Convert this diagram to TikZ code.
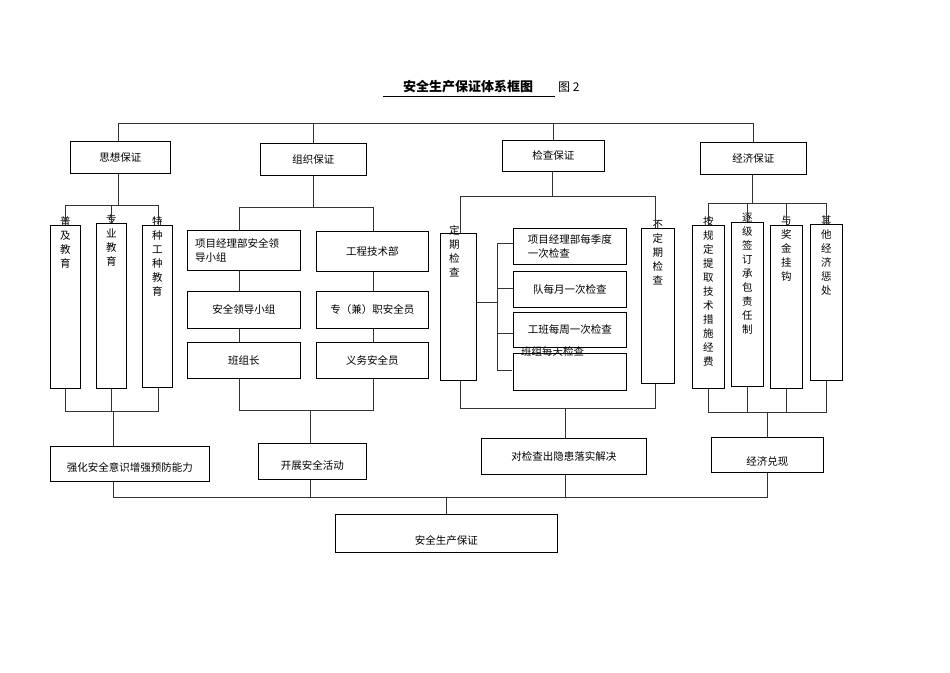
\documentclass[tikz,border=0pt]{standalone}
\usepackage{fontspec}
\newfontfamily\cjk{Noto Sans CJK SC}
\usetikzlibrary{calc}
\tikzset{ln/.style={line width=0.8pt,draw=black!80}, bxs/.style={draw,line width=0.8pt,inner sep=0pt}, tx/.style={font=\cjk\fontsize{10.5}{14}\selectfont,inner sep=0pt,align=center}}
\newcommand\bx[5]{\node[bxs,minimum width=#4pt-#2pt,minimum height=#5pt-#3pt,anchor=north west] (#1) at (#2,#3) {};}
\begin{document}
\begin{tikzpicture}[x=1pt,y=-1pt]
\useasboundingbox (0,0) rectangle (950,672);
\node[tx,font=\cjk\bfseries\fontsize{13}{15}\selectfont] (title) at (468,87) {安全生产保证体系框图};
\draw[line width=0.8pt] (383,96) -- (555,96);
\node[tx,font=\cjk\fontsize{12}{14}\selectfont,anchor=west] (fig) at (558,87) {图 2};
% level 1
\bx{sx}{70}{141}{170}{173}\node[tx] at (sx) {思想保证};
\bx{zz}{260}{143}{366}{175}\node[tx] at (zz) {组织保证};
\bx{jc}{502}{140}{604}{171}\node[tx] at (jc) {检查保证};
\bx{jj}{700}{142}{806}{174}\node[tx] at (jj) {经济保证};
\coordinate (tb) at (0,123);
\draw[ln] (sx.north -| 118,0) |- (jj.north |- tb) -- (jj.north);
\draw[ln] (zz.north) -- (zz.north |- tb);
\draw[ln] (jc.north) -- (jc.north |- tb);
% 思想
\bx{pj}{50}{225}{80}{388}\node[tx,anchor=north] at ($(pj.north)+(0,-9)$) {普\\及\\教\\育};
\bx{zy}{96}{223}{126}{388}\node[tx,anchor=north] at ($(zy.north)+(0,-9)$) {专\\业\\教\\育};
\bx{tz}{142}{225}{172}{387}\node[tx,anchor=north] at ($(tz.north)+(0,-9)$) {特\\种\\工\\种\\教\\育};
\draw[ln] (sx.south -| 118,0) -- (118,205);
\draw[ln] (pj.north -| 65,0) |- (158,205) -- (tz.north -| 158,0);
\draw[ln] (zy.north -| 111,0) -- (111,205);
\draw[ln] (pj.south -| 65,0) |- (158,411) -- (tz.south -| 158,0);
\draw[ln] (zy.south -| 111,0) -- (111,411);
\bx{qh}{50}{446}{209}{481}\node[tx] at ($(qh)+(0,4)$) {强化安全意识增强预防能力};
\draw[ln] (113,411) -- (qh.north -| 113,0);
% 组织
\bx{xm}{187}{230}{300}{270}\node[tx,align=left,anchor=west] at ($(xm.west)+(8,0)$) {项目经理部安全领\\导小组};
\bx{aq}{187}{291}{300}{328}\node[tx] at (aq) {安全领导小组};
\bx{bz}{187}{342}{300}{378}\node[tx] at (bz) {班组长};
\bx{gc}{316}{231}{428}{271}\node[tx] at (gc) {工程技术部};
\bx{zj}{316}{291}{428}{328}\node[tx] at (zj) {专（兼）职安全员};
\bx{yw}{316}{342}{428}{378}\node[tx] at (yw) {义务安全员};
\draw[ln] (zz.south) -- (zz.south |- 0,207);
\draw[ln] (xm.north -| 239,0) |- (373,207) -- (gc.north -| 373,0);
\draw[ln] (xm.south -| 239,0) -- (aq.north -| 239,0) (aq.south -| 239,0) -- (bz.north -| 239,0);
\draw[ln] (gc.south -| 373,0) -- (zj.north -| 373,0) (zj.south -| 373,0) -- (yw.north -| 373,0);
\draw[ln] (bz.south -| 239,0) |- (373,410) -- (yw.south -| 373,0);
\bx{kz}{258}{443}{366}{479}\node[tx] at ($(kz)+(0,4)$) {开展安全活动};
\draw[ln] (310,410) -- (kz.north -| 310,0);
% 检查
\bx{dq}{440}{233}{476}{380}\node[tx,anchor=north] at ($(dq.north)+(-4,-8)$) {定\\期\\检\\查};
\bx{bd}{641}{228}{674}{383}\node[tx,anchor=north] at ($(bd.north)+(0,-8)$) {不\\定\\期\\检\\查};
\bx{c1}{513}{228}{626}{264}\node[tx,align=left] at (c1) {项目经理部每季度\\一次检查};
\bx{c2}{513}{271}{626}{307}\node[tx] at (c2) {队每月一次检查};
\bx{c3}{513}{312}{626}{347}\node[tx] at (c3) {工班每周一次检查};
\bx{c4}{513}{353}{626}{390}\node[tx,anchor=north west] at ($(c4.north west)+(8,-7)$) {班组每天检查};
\draw[ln] (jc.south -| 552,0) -- (552,196);
\draw[ln] (dq.north -| 460,0) |- (655,196) -- (bd.north -| 655,0);
\draw[ln] (dq.south -| 460,0) |- (655,408) -- (bd.south -| 655,0);
\draw[ln] (dq.east |- 0,302) -- (497,302);
\draw[ln] (c1.west |- 0,243) -| (497,370) -- (512,370);
\draw[ln] (497,288) -- (c2.west |- 0,288) (497,333) -- (c3.west |- 0,333);
\bx{dj}{481}{438}{646}{474}\node[tx] at (dj) {对检查出隐患落实解决};
\draw[ln] (565,408) -- (dj.north -| 565,0);
% 经济
\bx{e1}{692}{225}{724}{388}\node[tx,anchor=north] at ($(e1.north)+(0,-9)$) {按\\规\\定\\提\\取\\技\\术\\措\\施\\经\\费};
\bx{e2}{731}{222}{763}{386}\node[tx,anchor=north] at ($(e2.north)+(0,-9)$) {逐\\级\\签\\订\\承\\包\\责\\任\\制};
\bx{e3}{770}{225}{802}{388}\node[tx,anchor=north] at ($(e3.north)+(0,-9)$) {与\\奖\\金\\挂\\钩};
\bx{e4}{810}{224}{842}{380}\node[tx,anchor=north] at ($(e4.north)+(0,-9)$) {其\\他\\经\\济\\惩\\处};
\draw[ln] (jj.south -| 752,0) -- (752,203);
\draw[ln] (e1.north -| 708,0) |- (826,203) -- (e4.north -| 826,0);
\draw[ln] (e2.north -| 747,0) -- (747,203) (e3.north -| 786,0) -- (786,203);
\draw[ln] (e1.south -| 708,0) |- (826,412) -- (e4.south -| 826,0);
\draw[ln] (e2.south -| 747,0) -- (747,412) (e3.south -| 786,0) -- (786,412);
\bx{dx}{711}{437}{823}{472}\node[tx] at ($(dx)+(0,7)$) {经济兑现};
\draw[ln] (767,412) -- (dx.north -| 767,0);
% final
\bx{fin}{335}{514}{557}{552}\node[tx] at ($(fin)+(0,7)$) {安全生产保证};
\draw[ln] (qh.south -| 113,0) |- (767,497) -- (dx.south -| 767,0);
\draw[ln] (kz.south -| 310,0) -- (310,497) (dj.south -| 565,0) -- (565,497);
\draw[ln] (446,497) -- (fin.north -| 446,0);
\end{tikzpicture}
\end{document}
